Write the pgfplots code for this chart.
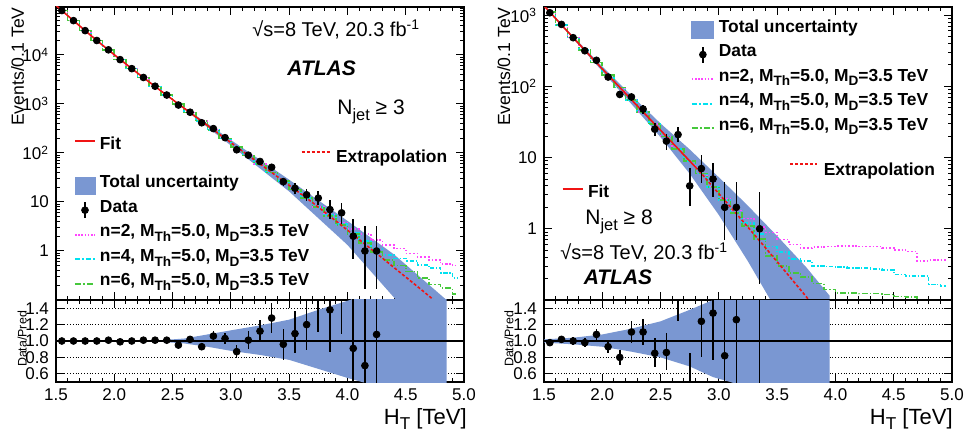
\documentclass[border=0pt]{standalone}
\usepackage{fontspec}
\setmainfont{Liberation Sans}
\usepackage{graphicx}
\usepackage{pgfplots}
\usepackage{pgfplotstable}
\pgfplotsset{compat=1.18}
\definecolor{bandblue}{RGB}{122,151,210}
\definecolor{sigpink}{RGB}{255,70,255}
\definecolor{sigcyan}{RGB}{0,225,240}
\definecolor{siggreen}{RGB}{70,200,60}
\definecolor{fitred}{RGB}{240,20,20}
\newcommand{\lsub}[1]{\raisebox{-0.5ex}{\scalebox{0.78}{#1}}}

\pgfplotstableread{
x s2 s4 s6
1.55 80400 80400 80400
1.65 50100 50100 50100
1.75 31300 31300 31300
1.85 19720 19720 19720
1.95 12590 12590 12590
2.05 8090 8090 8090
2.15 5250 5250 5250
2.25 3440 3440 3440
2.35 2275 2275 2275
2.45 1507 1507 1507
2.55 1000 1000 1000
2.65 665 665 665
2.75 444 444 444
2.85 296 296 296
2.95 199 199 199
3.05 133 133 133
3.15 89.1 89.1 89.1
3.25 59.7 59.7 59.7
3.35 40.0 40.0 40.0
3.45 26.8 26.8 26.8
3.55 17.9 17.9 17.9
3.65 12.0 12.0 12.0
3.75 8.0 7.9 7.85
3.85 5.6 5.4 5.2
3.95 3.80 3.55 3.39
4.05 2.82 2.40 2.19
4.15 2.24 1.585 1.445
4.25 1.66 1.12 0.955
4.35 1.32 0.832 0.661
4.45 1.12 0.708 0.501
4.55 0.891 0.631 0.380
4.65 0.759 0.525 0.282
4.75 0.661 0.447 0.209
4.85 0.537 0.355 0.178
4.95 0.501 0.282 0.132
}\sigleft

\pgfplotstableread{
x s2 s4 s6
1.55 1104 1104 1104
1.65 729 729 729
1.75 484 484 484
1.85 322 322 322
1.95 215 215 215
2.05 144 144 144
2.15 96.6 96.6 96.6
2.25 64.9 64.9 64.9
2.35 43.7 43.7 43.7
2.45 29.4 29.4 29.4
2.55 19.8 19.8 19.8
2.65 13.3 13.3 13.3
2.75 8.95 8.95 8.95
2.85 6.0 6.0 6.0
2.95 3.9 3.88 3.86
3.05 2.6 2.55 2.52
3.15 1.8 1.7 1.65
3.25 1.4 1.2 1.1
3.35 1.05 0.85 0.72
3.45 0.891 0.562 0.417
3.55 0.708 0.468 0.302
3.65 0.603 0.380 0.240
3.75 0.537 0.355 0.209
3.85 0.550 0.302 0.170
3.95 0.562 0.295 0.141
4.05 0.575 0.288 0.126
4.15 0.575 0.282 0.126
4.25 0.562 0.282 0.123
4.35 0.562 0.275 0.123
4.45 0.537 0.263 0.120
4.55 0.501 0.229 0.112
4.65 0.479 0.219 0.110
4.75 0.355 0.219 0.089
4.85 0.363 0.166 0.079
4.95 0.363 0.158 0.071
}\sigright

\begin{document}
\begin{tikzpicture}
\useasboundingbox (0,0) rectangle (482pt,217pt);

% ================= LEFT MAIN =================
\begin{axis}[ymode=log, at={(28pt,67pt)}, anchor=south west,
  scale only axis, width=204pt, height=146.5pt,
  xmin=1.5, xmax=5, ymin=0.1, ymax=9.5e4,
  axis line style={line width=0.7pt}, tick style={black, line width=0.5pt},
  major tick length=4pt, minor tick length=2pt,
  tick label style={font=\fontsize{8.5}{10}\selectfont},
  xtick={1.5,2,2.5,3,3.5,4,4.5,5}, minor x tick num=4, xticklabels={},
  ytick={1,10,100,1000,10000},
  yticklabels={1,10,10\textsuperscript{2},10\textsuperscript{3},10\textsuperscript{4}},
  minor ytick={0.2,0.3,0.4,0.5,0.6,0.7,0.8,0.9,2,3,4,5,6,7,8,9,20,30,40,50,60,70,80,90,200,300,400,500,600,700,800,900,2000,3000,4000,5000,6000,7000,8000,9000,20000,30000,40000,50000,60000,70000,80000,90000},
  clip marker paths=true,
  legend cell align=left,
  legend style={at={(axis description cs:0.0441,0.432)}, anchor=north west,
    draw=none, fill=none, inner sep=0pt, outer sep=0pt, row sep=0pt,
    font=\bfseries\fontsize{8.7}{10}\selectfont,
    nodes={inner sep=0pt, text height=7.25pt, text depth=5pt}, column sep=2pt}]
\addlegendimage{legend image code/.code={\fill[bandblue] (0pt,-4.25pt) rectangle (10pt,4.25pt);}}
\addlegendentry{Total uncertainty}
\addlegendimage{legend image code/.code={\draw[line width=0.8pt] (5pt,-4pt) -- (5pt,4pt); \fill (5pt,0pt) circle (1.7pt);}}
\addlegendentry{Data}
\addlegendimage{legend image code/.code={\draw[sigpink, dash pattern=on 0.8pt off 0.8pt, line width=1pt] (0pt,0pt) -- (10pt,0pt);}}
\addlegendentry{n=2, M\lsub{Th}=5.0, M\lsub{D}=3.5 TeV}
\addlegendimage{legend image code/.code={\draw[sigcyan, dash pattern=on 2.5pt off 1pt on 1pt off 1pt, line width=1pt] (0pt,0pt) -- (10pt,0pt);}}
\addlegendentry{n=4, M\lsub{Th}=5.0, M\lsub{D}=3.5 TeV}
\addlegendimage{legend image code/.code={\draw[siggreen, dash pattern=on 3pt off 1pt on 1pt off 1pt, line width=1pt] (0pt,0pt) -- (10pt,0pt);}}
\addlegendentry{n=6, M\lsub{Th}=5.0, M\lsub{D}=3.5 TeV}

\addplot[fill=bandblue, draw=none, forget plot] coordinates {
(1.5,1.033e5) (2.0,1.019e4) (2.5,1253) (3.0,184) (3.5,28.5) (4.0,4.12) (4.4,0.85) (4.85,0.1)
(4.85,0.0061) (4.4,0.112) (4.0,1.33) (3.5,16.4) (3.0,142) (2.5,1202) (2.0,1.0e4) (1.5,1.014e5)};
\addplot[sigpink, densely dotted, line width=0.8pt, const plot mark mid, forget plot] table[x=x, y=s2] {\sigleft};
\addplot[sigcyan, dash pattern=on 2pt off 1pt on 0.6pt off 1pt, line width=0.8pt, const plot mark mid, forget plot] table[x=x, y=s4] {\sigleft};
\addplot[siggreen, dash pattern=on 3pt off 1pt on 0.6pt off 1pt, line width=0.8pt, const plot mark mid, forget plot] table[x=x, y=s6] {\sigleft};
\addplot[fitred, line width=0.8pt, forget plot] coordinates {
(1.5,1.023e5) (1.55,80400) (1.65,50100) (1.75,31300) (1.85,19720) (1.95,12590) (2.05,8090) (2.15,5250) (2.25,3440) (2.35,2275) (2.45,1507) (2.55,1000) (2.65,665) (2.75,444) (2.8,363)};
\addplot[fitred, line width=0.8pt, dash pattern=on 1.5pt off 1pt, forget plot] coordinates {
(2.8,363) (2.85,296) (2.95,199) (3.05,133) (3.15,89.1) (3.25,59.7) (3.35,40.0) (3.45,26.8) (3.55,17.9) (3.65,12.0) (3.75,7.85) (3.85,5.11) (3.95,3.31) (4.05,2.14) (4.15,1.38) (4.25,0.891) (4.35,0.573) (4.45,0.367) (4.55,0.236) (4.65,0.151) (4.75,0.0959) (4.85,0.061)};
\addplot[forget plot, only marks, mark=*, mark size=1.7pt, black,
  error bars/.cd, y dir=both, y explicit, error mark=none, error bar style={line width=0.8pt, black}] coordinates {
(1.55,80400) +- (0,284)
(1.65,50100) +- (0,224)
(1.75,31300) +- (0,177)
(1.85,19700) +- (0,140)
(1.95,12700) +- (0,113)
(2.05,8010) +- (0,89)
(2.15,5250) +- (0,72)
(2.25,3470) +- (0,59)
(2.35,2300) +- (0,48)
(2.45,1520) +- (0,39)
(2.55,950) +- (0,31)
(2.65,678) +- (0,26)
(2.75,413) +- (0,20)
(2.85,314) +- (0,18)
(2.95,205) +- (0,14)
(3.05,116) +- (0,11)
(3.15,90) +- (0,9.5)
(3.25,67) +- (0,8.2)
(3.35,51) +- (0,7.1)
(3.45,26) +- (0,5.1)
(3.55,19) += (0,4.9) -= (0,4.3)
(3.65,14) += (0,4.8) -= (0,3.7)
(3.75,12) += (0,4.6) -= (0,3.4)
(3.85,7) += (0,3.8) -= (0,2.6)
(3.95,6) += (0,3.6) -= (0,2.4)
(4.05,2) += (0,2.6) -= (0,1.3)
(4.15,1) += (0,2.3) -= (0,0.83)
(4.25,1) += (0,2.3) -= (0,0.83)
};
\end{axis}

% ================= LEFT RATIO =================
\begin{axis}[at={(28pt,26pt)}, anchor=south west,
  scale only axis, width=204pt, height=41pt,
  xmin=1.5, xmax=5, ymin=0.5, ymax=1.5,
  axis line style={line width=0.7pt}, tick style={black, line width=0.5pt},
  major tick length=4pt, minor tick length=2pt,
  tick label style={font=\fontsize{8.5}{10}\selectfont},
  xtick={1.5,2,2.5,3,3.5,4,4.5,5}, minor x tick num=4,
  xticklabels={1.5,2.0,2.5,3.0,3.5,4.0,4.5,5.0},
  ytick={0.6,0.8,1.0,1.2,1.4}, yticklabels={0.6,0.8,1.0,1.2,1.4},
  ymajorgrids, grid style={densely dotted, black, line width=0.4pt},
  clip marker paths=true]
\addplot[fill=bandblue, draw=none, forget plot] coordinates {
(1.5,1.01) (2.4,1.01) (2.6,1.03) (2.8,1.08) (3.0,1.13) (3.25,1.19) (3.5,1.26) (3.75,1.38) (4.0,1.49) (4.25,1.62) (4.85,2.0)
(4.85,0.2) (4.25,0.45) (4.0,0.55) (3.75,0.66) (3.5,0.77) (3.25,0.83) (3.0,0.88) (2.8,0.93) (2.6,0.97) (2.4,0.99) (1.5,0.99)};
\addplot[black, line width=0.8pt, forget plot] coordinates {(1.5,1) (5,1)};
\addplot[forget plot, only marks, mark=*, mark size=1.7pt, black,
  error bars/.cd, y dir=both, y explicit, error mark=none, error bar style={line width=0.8pt, black}] coordinates {
(1.55,1.00) +- (0,0.004)
(1.65,1.00) +- (0,0.005)
(1.75,1.00) +- (0,0.006)
(1.85,1.00) +- (0,0.007)
(1.95,1.01) +- (0,0.009)
(2.05,0.99) +- (0,0.011)
(2.15,1.00) +- (0,0.014)
(2.25,1.01) +- (0,0.017)
(2.35,1.01) +- (0,0.021)
(2.45,1.01) +- (0,0.026)
(2.55,0.95) +- (0,0.031)
(2.65,1.02) +- (0,0.039)
(2.75,0.93) +- (0,0.045)
(2.85,1.06) +- (0,0.06)
(2.95,1.03) +- (0,0.072)
(3.05,0.87) +- (0,0.083)
(3.15,1.01) +- (0,0.107)
(3.25,1.12) +- (0,0.137)
(3.35,1.28) +- (0,0.18)
(3.45,0.96) +- (0,0.19)
(3.55,1.09) += (0,0.27) -= (0,0.24)
(3.65,1.20) += (0,0.40) -= (0,0.31)
(3.75,1.56) += (0,0.59) -= (0,0.45)
(3.85,1.38) += (0,0.74) -= (0,0.51)
(3.95,1.81) += (0,1.09) -= (0,0.73)
(4.05,0.91) += (0,1.22) -= (0,0.61)
(4.15,0.70) += (0,1.67) -= (0,0.60)
(4.25,1.08) += (0,2.6) -= (0,0.93)
};
\end{axis}

% ================= RIGHT MAIN =================
\begin{axis}[ymode=log, at={(272pt,67pt)}, anchor=south west,
  scale only axis, width=204pt, height=146.5pt,
  xmin=1.5, xmax=5, ymin=0.1, ymax=1300,
  axis line style={line width=0.7pt}, tick style={black, line width=0.5pt},
  major tick length=4pt, minor tick length=2pt,
  tick label style={font=\fontsize{8.5}{10}\selectfont},
  xtick={1.5,2,2.5,3,3.5,4,4.5,5}, minor x tick num=4, xticklabels={},
  ytick={1,10,100,1000},
  yticklabels={1,10,10\textsuperscript{2},10\textsuperscript{3}},
  minor ytick={0.2,0.3,0.4,0.5,0.6,0.7,0.8,0.9,2,3,4,5,6,7,8,9,20,30,40,50,60,70,80,90,200,300,400,500,600,700,800,900},
  clip marker paths=true,
  legend cell align=left,
  legend style={at={(axis description cs:0.360,0.963)}, anchor=north west,
    draw=none, fill=none, inner sep=0pt, outer sep=0pt, row sep=0pt,
    font=\bfseries\fontsize{8.7}{10}\selectfont,
    nodes={inner sep=0pt, text height=7.25pt, text depth=5pt}, column sep=2pt}]
\addlegendimage{legend image code/.code={\fill[bandblue] (0pt,-4.25pt) rectangle (11pt,4.25pt);}}
\addlegendentry{Total uncertainty}
\addlegendimage{legend image code/.code={\draw[line width=0.8pt] (5.5pt,-4pt) -- (5.5pt,4pt); \fill (5.5pt,0pt) circle (1.7pt);}}
\addlegendentry{Data}
\addlegendimage{legend image code/.code={\draw[sigpink, dash pattern=on 0.8pt off 0.8pt, line width=1pt] (0pt,0pt) -- (11pt,0pt);}}
\addlegendentry{n=2, M\lsub{Th}=5.0, M\lsub{D}=3.5 TeV}
\addlegendimage{legend image code/.code={\draw[sigcyan, dash pattern=on 2.5pt off 1pt on 1pt off 1pt, line width=1pt] (0pt,0pt) -- (11pt,0pt);}}
\addlegendentry{n=4, M\lsub{Th}=5.0, M\lsub{D}=3.5 TeV}
\addlegendimage{legend image code/.code={\draw[siggreen, dash pattern=on 3pt off 1pt on 1pt off 1pt, line width=1pt] (0pt,0pt) -- (11pt,0pt);}}
\addlegendentry{n=6, M\lsub{Th}=5.0, M\lsub{D}=3.5 TeV}

\addplot[fill=bandblue, draw=none, forget plot] coordinates {
(1.5,1377) (1.75,504) (2.0,190) (2.25,74.6) (2.5,30.1) (2.75,13.0) (3.0,5.28) (3.25,2.10) (3.5,0.792) (3.75,0.288) (3.95,0.115)
(3.95,0.004) (3.75,0.0144) (3.5,0.0689) (3.25,0.348) (3.0,1.56) (2.75,5.92) (2.5,19.3) (2.25,56.5) (2.0,163) (1.75,465) (1.5,1321)};
\addplot[sigpink, densely dotted, line width=0.8pt, const plot mark mid, forget plot] table[x=x, y=s2] {\sigright};
\addplot[sigcyan, dash pattern=on 2pt off 1pt on 0.6pt off 1pt, line width=0.8pt, const plot mark mid, forget plot] table[x=x, y=s4] {\sigright};
\addplot[siggreen, dash pattern=on 3pt off 1pt on 0.6pt off 1pt, line width=0.8pt, const plot mark mid, forget plot] table[x=x, y=s6] {\sigright};
\addplot[fitred, line width=0.8pt, forget plot] coordinates {
(1.5,1349) (1.55,1104) (1.65,729) (1.75,484) (1.85,322) (1.95,215) (2.05,144) (2.15,96.6) (2.25,64.9) (2.35,43.7) (2.45,29.4) (2.55,19.8) (2.65,13.3) (2.75,8.95) (2.8,7.33)};
\addplot[fitred, line width=0.8pt, dash pattern=on 1.5pt off 1pt, forget plot] coordinates {
(2.8,7.33) (2.85,6.0) (2.95,3.85) (3.05,2.51) (3.15,1.63) (3.25,1.05) (3.35,0.676) (3.45,0.432) (3.55,0.275) (3.65,0.175) (3.75,0.111) (3.85,0.0708)};
\addplot[forget plot, only marks, mark=*, mark size=1.7pt, black,
  error bars/.cd, y dir=both, y explicit, error mark=none, error bar style={line width=0.8pt, black}] coordinates {
(1.55,1080) +- (0,33)
(1.65,741) +- (0,27)
(1.75,482) +- (0,22)
(1.85,316) +- (0,18)
(1.95,232) +- (0,15)
(2.05,135) +- (0,12)
(2.15,77) +- (0,8.8)
(2.25,71) +- (0,8.4)
(2.35,48) +- (0,6.9)
(2.45,25) += (0,5.5) -= (0,4.9)
(2.55,17) += (0,4.7) -= (0,4.1)
(2.65,21) += (0,5.6) -= (0,4.6)
(2.75,4) += (0,3.2) -= (0,1.9)
(2.85,7) += (0,3.8) -= (0,2.6)
(2.95,5) += (0,3.4) -= (0,2.2)
(3.05,2) += (0,2.6) -= (0,1.3)
(3.15,2) += (0,2.6) -= (0,1.3)
(3.35,1) += (0,2.3) -= (0,0.83)
};
\end{axis}

% ================= RIGHT RATIO =================
\begin{axis}[at={(272pt,26pt)}, anchor=south west,
  scale only axis, width=204pt, height=41pt,
  xmin=1.5, xmax=5, ymin=0.5, ymax=1.5,
  axis line style={line width=0.7pt}, tick style={black, line width=0.5pt},
  major tick length=4pt, minor tick length=2pt,
  tick label style={font=\fontsize{8.5}{10}\selectfont},
  xtick={1.5,2,2.5,3,3.5,4,4.5,5}, minor x tick num=4,
  xticklabels={1.5,2.0,2.5,3.0,3.5,4.0,4.5,5.0},
  ytick={0.6,0.8,1.0,1.2,1.4}, yticklabels={0.6,0.8,1.0,1.2,1.4},
  ymajorgrids, grid style={densely dotted, black, line width=0.4pt},
  clip marker paths=true]
\addplot[fill=bandblue, draw=none, forget plot] coordinates {
(1.5,1.02) (1.75,1.04) (2.0,1.08) (2.25,1.15) (2.5,1.24) (2.75,1.38) (2.95,1.50) (3.1,1.65) (3.5,2.3) (3.95,2.8)
(3.95,0.2) (3.5,0.3) (3.1,0.50) (2.95,0.56) (2.75,0.69) (2.5,0.80) (2.25,0.87) (2.0,0.93) (1.75,0.96) (1.5,0.98)};
\addplot[black, line width=0.8pt, forget plot] coordinates {(1.5,1) (5,1)};
\addplot[forget plot, only marks, mark=*, mark size=1.7pt, black,
  error bars/.cd, y dir=both, y explicit, error mark=none, error bar style={line width=0.8pt, black}] coordinates {
(1.55,0.98) +- (0,0.03)
(1.65,1.02) +- (0,0.037)
(1.75,1.00) +- (0,0.045)
(1.85,0.98) +- (0,0.055)
(1.95,1.08) +- (0,0.07)
(2.05,0.93) +- (0,0.08)
(2.15,0.80) +- (0,0.09)
(2.25,1.11) +- (0,0.13)
(2.35,1.11) +- (0,0.16)
(2.45,0.85) += (0,0.19) -= (0,0.17)
(2.55,0.86) += (0,0.24) -= (0,0.21)
(2.65,1.58) += (0,0.42) -= (0,0.33)
(2.75,0.44) += (0,0.41) -= (0,0.21)
(2.85,1.24) += (0,0.63) -= (0,0.43)
(2.95,1.34) += (0,0.88) -= (0,0.57)
(3.05,0.82) += (0,1.04) -= (0,0.52)
(3.15,1.26) += (0,1.6) -= (0,0.8)
(3.35,1.56) += (0,3.4) -= (0,1.23)
};
\end{axis}

% ================= TEXT =================
\node[rotate=90, anchor=base east, font=\fontsize{8.8}{10}\selectfont, inner sep=0pt] at (12pt,213.5pt) {Events/0.1 TeV};
\node[rotate=90, anchor=base east, font=\fontsize{8.8}{10}\selectfont, inner sep=0pt] at (255pt,213.5pt) {Events/0.1 TeV};
\node[rotate=90, anchor=base, font=\fontsize{6.2}{7}\selectfont, inner sep=0pt] at (13.3pt,47.5pt) {Data/Pred};
\node[rotate=90, anchor=base, font=\fontsize{6.2}{7}\selectfont, inner sep=0pt] at (256.7pt,47.5pt) {Data/Pred};
\node[anchor=base east, font=\fontsize{11}{12}\selectfont, inner sep=0pt] at (233.5pt,5pt) {H\lsub{T} [TeV]};
\node[anchor=base east, font=\fontsize{11}{12}\selectfont, inner sep=0pt] at (476.5pt,5pt) {H\lsub{T} [TeV]};

\node[anchor=base west, font=\fontsize{10}{12}\selectfont, inner sep=0pt] at (126pt,198.6pt) {√s=8 TeV, 20.3 fb\textsuperscript{-1}};
\node[anchor=base west, font=\bfseries\itshape\fontsize{10.5}{12}\selectfont, inner sep=0pt] at (143.5pt,179pt) {ATLAS};
\node[anchor=base west, font=\fontsize{10.5}{12}\selectfont, inner sep=0pt] at (168.5pt,159.5pt) {N\lsub{jet} ≥ 3};
\draw[fitred, line width=1pt] (37.5pt,146.7pt) -- (47.5pt,146.7pt);
\node[anchor=base west, font=\bfseries\fontsize{8.7}{10}\selectfont, inner sep=0pt] at (49.7pt,142.3pt) {Fit};
\draw[fitred, line width=0.9pt, dash pattern=on 1.5pt off 1pt] (150.8pt,140.8pt) -- (165pt,140.8pt);
\node[anchor=base west, font=\bfseries\fontsize{8.7}{10}\selectfont, inner sep=0pt] at (167.8pt,135.7pt) {Extrapolation};

\node[anchor=base west, font=\fontsize{10.5}{12}\selectfont, inner sep=0pt] at (292.5pt,104.5pt) {N\lsub{jet} ≥ 8};
\node[anchor=base west, font=\fontsize{10}{12}\selectfont, inner sep=0pt] at (280pt,87pt) {√s=8 TeV, 20.3 fb\textsuperscript{-1}};
\node[anchor=base west, font=\bfseries\itshape\fontsize{10.5}{12}\selectfont, inner sep=0pt] at (291.7pt,74.5pt) {ATLAS};
\draw[fitred, line width=1pt] (281.3pt,122.5pt) -- (291.7pt,122.5pt);
\node[anchor=base west, font=\bfseries\fontsize{8.7}{10}\selectfont, inner sep=0pt] at (293.8pt,118.2pt) {Fit};
\draw[fitred, line width=0.9pt, dash pattern=on 1.5pt off 1pt] (395pt,134.8pt) -- (408.7pt,134.8pt);
\node[anchor=base west, font=\bfseries\fontsize{8.7}{10}\selectfont, inner sep=0pt] at (411.7pt,129pt) {Extrapolation};
\end{tikzpicture}
\end{document}
